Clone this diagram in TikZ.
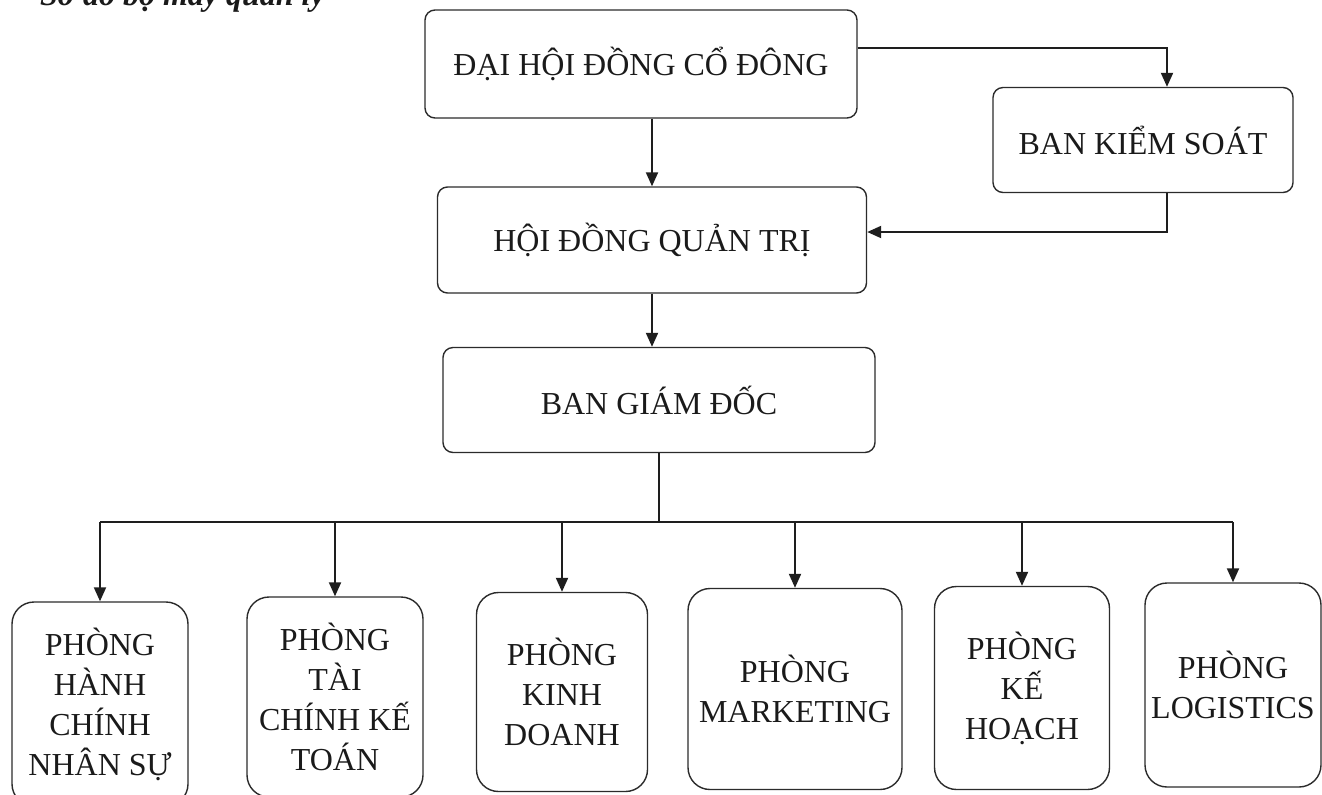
\documentclass[tikz,border=0pt]{standalone}
\usepackage{fontspec}
\setmainfont{Liberation Serif}
\usepackage{xcolor}
\usetikzlibrary{arrows.meta}
\definecolor{boxdraw}{HTML}{2B2B2B}
\definecolor{linedraw}{HTML}{1E1E1E}
\definecolor{txt}{HTML}{1A1A1A}
\tikzset{
  blk/.style={rectangle, draw=boxdraw, line width=0.7pt, align=center, text=txt, font=\fontsize{16}{20}\selectfont, inner sep=2pt},
  board/.style={blk, rounded corners=5pt},
  dept/.style={blk, rounded corners=11pt},
  arr/.style={-{Triangle[length=7pt, width=6pt]}, line width=1pt, draw=linedraw},
  wire/.style={line width=1pt, draw=linedraw},
}

\begin{document}
\begin{tikzpicture}[x=0.5pt, y=-0.5pt]
  \useasboundingbox (0,0) rectangle (1322,794);
  \clip (0,0) rectangle (1322,794);
  \node[anchor=base west, text=txt, font=\fontsize{16}{20}\selectfont\bfseries\itshape] (title) at (33,5) {Sơ đồ bộ máy quản lý};

  \node[board, minimum width=216pt, minimum height=54pt] (dhdcd) at (641,64) {ĐẠI HỘI ĐỒNG CỔ ĐÔNG};
  \node[board, minimum width=150pt, minimum height=52.5pt] (bks) at (1143,140) {BAN KIỂM SOÁT};
  \node[board, minimum width=214.5pt, minimum height=53pt] (hdqt) at (652,240) {HỘI ĐỒNG QUẢN TRỊ};
  \node[board, minimum width=216pt, minimum height=52.5pt] (bgd) at (659,400) {BAN GIÁM ĐỐC};

  \node[dept, minimum width=88pt, minimum height=102pt] (p1) at (100,704) {PHÒNG\\HÀNH\\CHÍNH\\NHÂN SỰ};
  \node[dept, minimum width=88pt, minimum height=100pt] (p2) at (335,697) {PHÒNG\\TÀI\\CHÍNH KẾ\\TOÁN};
  \node[dept, minimum width=85.5pt, minimum height=99.5pt] (p3) at (562,692) {PHÒNG\\KINH\\DOANH};
  \node[dept, minimum width=107pt, minimum height=100.5pt] (p4) at (795,689) {PHÒNG\\MARKETING};
  \node[dept, minimum width=87.5pt, minimum height=101.5pt] (p5) at (1022,688) {PHÒNG\\KẾ\\HOẠCH};
  \node[dept, minimum width=88pt, minimum height=102pt] (p6) at (1233,685) {PHÒNG\\LOGISTICS};

  \draw[arr] ([yshift=8pt]dhdcd.east) -| ([xshift=12pt]bks.north);
  \draw[arr] ([xshift=12pt]bks.south) |- ([yshift=4pt]hdqt.east);
  \draw[arr] (dhdcd.south -| hdqt.north) -- (hdqt.north);
  \draw[arr] (hdqt.south) -- (hdqt.south |- bgd.north);

  \coordinate (bus) at (0,522);
  \draw[wire] (bgd.south) -- (bgd.south |- bus);
  \draw[wire] (p1.north |- bus) -- (p6.north |- bus);
  \foreach \p in {p1,p2,p3,p4,p5,p6}
    \draw[arr] (\p.north |- bus) -- (\p.north);
\end{tikzpicture}
\end{document}
